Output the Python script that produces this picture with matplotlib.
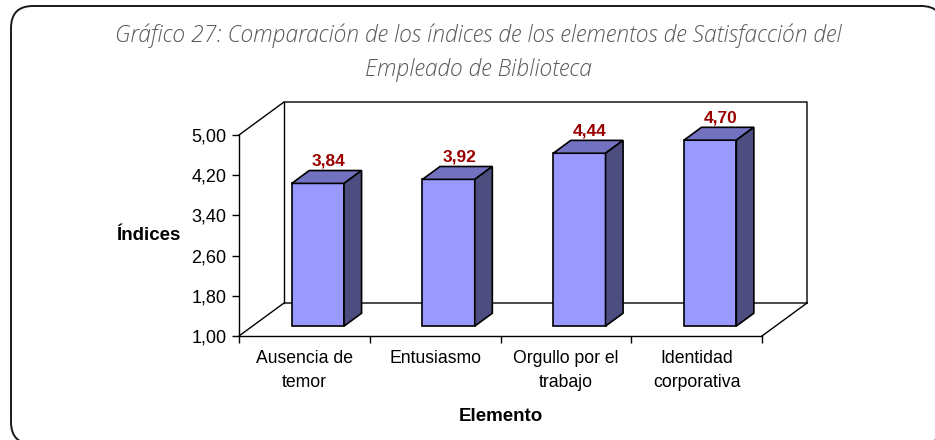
import matplotlib

matplotlib.use("Agg")
import matplotlib.pyplot as plt
from matplotlib.patches import FancyBboxPatch, Polygon

plt.rcParams["font.family"] = ["Liberation Sans", "DejaVu Sans"]

# data
elementos = ["Ausencia de\ntemor", "Entusiasmo", "Orgullo por el\ntrabajo", "Identidad\ncorporativa"]
indices = [3.84, 3.92, 4.44, 4.70]
y_ticks = [1.00, 1.80, 2.60, 3.40, 4.20, 5.00]

titulo = ("Gráfico 27: Comparación de los índices de los elementos de Satisfacción del\n"
          "Empleado de Biblioteca")

FRONT = "#9999ff"
TOP = "#7272c0"
SIDE = "#4d4d80"
LABEL_RED = "#990000"

W, H = 935, 440
fig = plt.figure(figsize=(W / 100, H / 100), dpi=100)

# rounded frame around the whole chart (pixel coords), runs off the bottom/right edge
bg = fig.add_axes([0, 0, 1, 1])
bg.set_xlim(0, W)
bg.set_ylim(H, 0)
bg.axis("off")
bg.add_patch(FancyBboxPatch((11, 6), 932, 438, boxstyle="round,pad=0,rounding_size=22",
                            fc="white", ec="#1a1a1a", lw=1.4, clip_on=False))

ax = fig.add_axes([239 / W, (H - 336) / H, 523 / W, 201 / H])
ax.patch.set_visible(False)
ax.set_xlim(0, len(elementos))
ax.set_ylim(1, 5)

# fake 3d depth, in data units
DX = 45 / 130.75
DY = 33 / 50.25
n = len(elementos)
line_kw = dict(color="black", lw=1.0, clip_on=False, zorder=1)
ax.plot([0, DX, n + DX, n + DX], [5, 5 + DY, 5 + DY, 1 + DY], **line_kw)
ax.plot([DX, DX], [5 + DY, 1 + DY], **line_kw)
ax.plot([0, DX, n + DX], [1, 1 + DY, 1 + DY], **line_kw)
ax.plot([n, n + DX], [1, 1 + DY], **line_kw)

f, g, w = 0.30, 0.39, 0.40
bdx, bdy = g * DX, g * DY
for i, v in enumerate(indices):
    c = i + 0.5
    x0 = c - w / 2 + f * DX
    x1 = x0 + w
    yb = 1 + f * DY
    yt = v + f * DY
    faces = [
        ([(x0, yb), (x1, yb), (x1, yt), (x0, yt)], FRONT),
        ([(x0, yt), (x1, yt), (x1 + bdx, yt + bdy), (x0 + bdx, yt + bdy)], TOP),
        ([(x1, yb), (x1 + bdx, yb + bdy), (x1 + bdx, yt + bdy), (x1, yt)], SIDE),
    ]
    for pts, col in faces:
        ax.add_patch(Polygon(pts, closed=True, fc=col, ec="black", lw=1.2,
                             joinstyle="miter", clip_on=False, zorder=3))
    ax.annotate(f"{v:.2f}".replace(".", ","), xy=((x0 + x1) / 2 + bdx * 0.6, yt + bdy),
                xytext=(0, 1.5), textcoords="offset points", ha="center", va="bottom",
                fontsize=12.5, fontweight="bold", color=LABEL_RED, zorder=4,
                annotation_clip=False)

for side in ("top", "right"):
    ax.spines[side].set_visible(False)
for side in ("left", "bottom"):
    ax.spines[side].set_linewidth(1.0)

ax.set_yticks(y_ticks, [f"{t:.2f}".replace(".", ",") for t in y_ticks])
ax.tick_params(axis="y", direction="out", length=5, width=1, pad=4, labelsize=13)
ax.set_xticks(range(n + 1), [])
ax.tick_params(axis="x", which="major", direction="out", length=5, width=1)
ax.set_xticks([i + 0.5 for i in range(n)], elementos, minor=True)
ax.tick_params(axis="x", which="minor", length=0, pad=10, labelsize=12.7)
for lbl in ax.get_xticklabels(minor=True):
    lbl.set_linespacing(1.55)

ax.set_ylabel("Índices", rotation=0, fontweight="bold", fontsize=13.5, ha="center", va="center")
ax.yaxis.set_label_coords((148 - 239) / 523, 0.5)
ax.set_xlabel("Elemento", fontweight="bold", fontsize=13.5, va="center")
ax.xaxis.set_label_coords(0.5, (336 - 416) / 201)

fig.text(478 / W, 1 - 53 / H, titulo, ha="center", va="center", fontsize=16.5,
         style="italic", weight="light", color="#595959",
         family=["Open Sans", "DejaVu Sans"], linespacing=1.55)

fig.savefig("out.png", dpi=100)
